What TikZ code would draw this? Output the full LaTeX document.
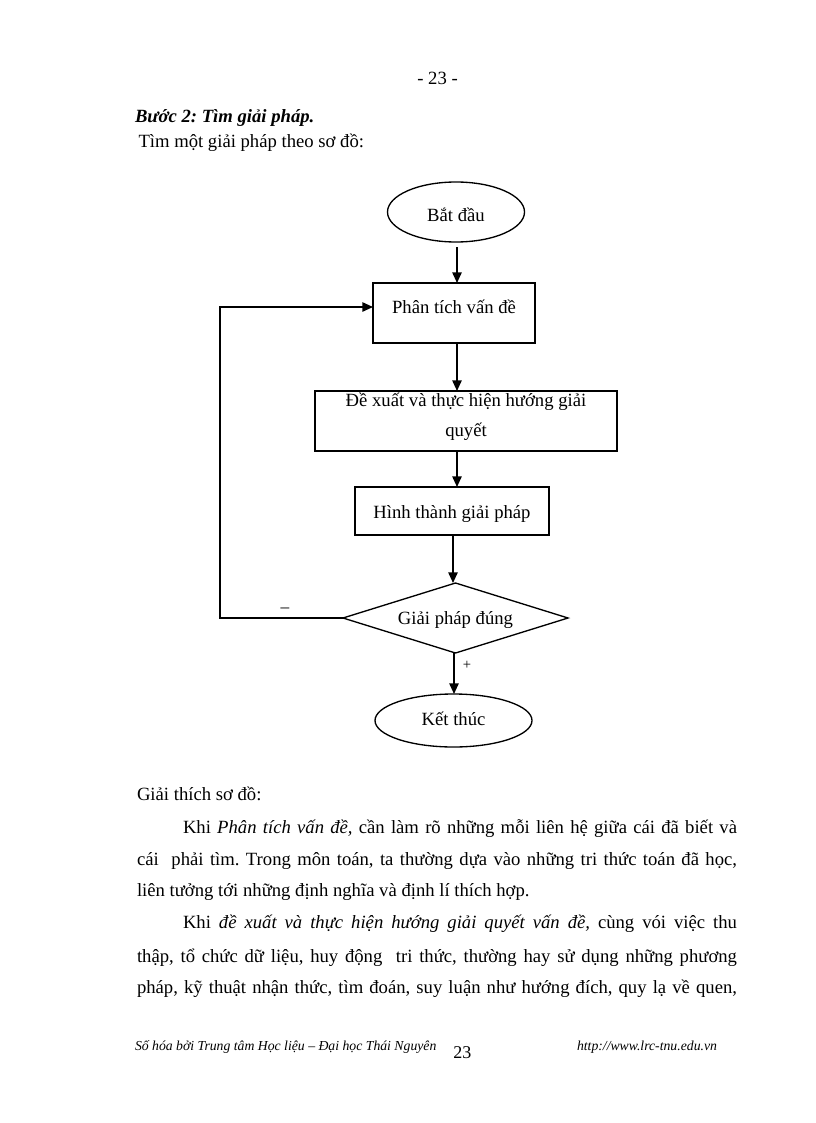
\documentclass[tikz,border=0pt]{standalone}
\usepackage{fontspec}
\setmainfont{Liberation Serif}
\frenchspacing
\usetikzlibrary{shapes.geometric,arrows.meta}
\tikzset{
  txt/.style={anchor=base west, inner sep=0pt, outer sep=0pt, font=\fontsize{14}{16}\selectfont},
  ctxt/.style={anchor=base, inner sep=0pt, outer sep=0pt, font=\fontsize{14}{16}\selectfont},
  foot/.style={anchor=base west, inner sep=0pt, outer sep=0pt, font=\fontsize{10.3}{12}\selectfont\itshape},
  shp/.style={draw, line width=1pt, inner sep=0pt, outer sep=0pt, align=center, font=\fontsize{14}{22.5}\selectfont},
  boxnode/.style={shp, rectangle},
  ovalnode/.style={shp, ellipse},
  dianode/.style={shp, diamond, aspect=3.2},
  arr/.style={line width=1.25pt, -{Triangle[length=8pt,width=7pt]}},
  lab/.style={inner sep=0pt, outer sep=0pt},
}
\begin{document}
\begin{tikzpicture}[x=0.75pt,y=-0.75pt]
\fill[white] (0,0) rectangle (816,1123);
\useasboundingbox (0,0) rectangle (816,1123);

% header
\node[ctxt] (pg) at (437.5,85) {- 23 -};
\node[txt, font=\fontsize{14}{16}\selectfont\bfseries\itshape] (step2) at (135,123) {Bước 2: Tìm giải pháp.};
\node[txt] (intro) at (138.5,148) {Tìm một giải pháp theo sơ đồ:};

% flowchart
\node[ovalnode, minimum width=102.75pt, minimum height=45pt, text height=15.5pt, text depth=0.5pt] (start) at (456,212) {Bắt đầu};
\node[boxnode, minimum width=121.5pt, minimum height=45pt, text height=6pt, text depth=6pt] (box1) at (454,313) {Phân tích vấn đề};
\node[boxnode, minimum width=226.5pt, minimum height=45pt, text height=27pt] (box2) at (466,421) {Đề xuất và thực hiện hướng giải\\quyết};
\node[boxnode, minimum width=145.5pt, minimum height=36pt, text height=11pt, text depth=0.5pt] (box3) at (452,511) {Hình thành giải pháp};
\node[dianode, minimum width=168.75pt, minimum height=52.5pt, text height=11pt, text depth=2pt] (dia) at (455.5,618) {Giải pháp đúng};
\node[ovalnode, minimum width=117.75pt, minimum height=39.75pt, text height=9pt, text depth=2.2pt] (end) at (453.5,720.5) {Kết thúc};

\coordinate (xa) at (457,0);
\coordinate (xb) at (453,0);
\coordinate (xc) at (454,0);
\coordinate (fb) at (220,307);

\draw[arr, shorten <=3.75pt] (start.south -| xa) -- (box1.north -| xa);
\draw[arr] (box1.south -| xa) -- (box2.north -| xa);
\draw[arr] (box2.south -| xa) -- (box3.north -| xa);
\draw[arr] (box3.south -| xb) -- (dia.north -| xb);
\draw[arr] (dia.south -| xc) -- (end.north -| xc);
\draw[arr] (dia.west) -| (fb) -- (fb -| box1.west);

\node[lab, font=\fontsize{13}{14}\selectfont] (minus) at (285,610) {–};
\node[lab, font=\fontsize{11}{12}\selectfont] (plus) at (467,665) {+};

% body text
\node[txt] (g0) at (137,800) {Giải thích sơ đồ:};
\node[txt] (l1) at (183,833) {\makebox[415.5pt][s]{Khi \textit{Phân tích vấn đề,} cần làm rõ những mỗi liên hệ giữa cái đã biết và}};
\node[txt] (l2) at (137,865) {\makebox[450pt][s]{cái\ \ phải tìm. Trong môn toán, ta thường dựa vào những tri thức toán đã học,}};
\node[txt] (l3) at (137,896) {liên tưởng tới những định nghĩa và định lí thích hợp.};
\node[txt] (l4) at (183,928) {\makebox[415.5pt][s]{Khi \textit{đề xuất và thực hiện hướng giải quyết vấn đề,} cùng vói việc thu}};
\node[txt] (l5) at (137,962) {\makebox[450pt][s]{thập, tổ chức dữ liệu, huy động\ \ tri thức, thường hay sử dụng những phương}};
\node[txt] (l6) at (137,993) {\makebox[450pt][s]{pháp, kỹ thuật nhận thức, tìm đoán, suy luận như hướng đích, quy lạ về quen,}};

% footer
\node[foot] (f1) at (135,1050) {Số hóa bởi Trung tâm Học liệu – Đại học Thái Nguyên};
\node[anchor=base west, inner sep=0pt, font=\fontsize{13.5}{15}\selectfont] (f2) at (453,1058) {23};
\node[foot] (f3) at (577,1050) {http://www.lrc-tnu.edu.vn};
\end{tikzpicture}
\end{document}
